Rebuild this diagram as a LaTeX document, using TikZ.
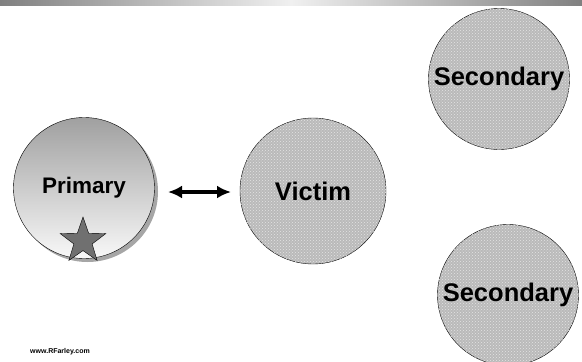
\documentclass[tikz,border=0pt]{standalone}
\usepackage{fontspec}
\setmainfont{Liberation Sans}
\usepackage{tikz}
\definecolor{bardark}{RGB}{128,128,128}
\definecolor{barlight}{RGB}{240,240,240}
\definecolor{balltop}{RGB}{160,160,160}
\definecolor{ballbottom}{RGB}{248,248,248}
\definecolor{hatchfill}{RGB}{186,186,186}
\definecolor{hatchdots}{RGB}{228,228,228}
\definecolor{stargray}{RGB}{112,112,112}
\usetikzlibrary{shapes.geometric,shadows,patterns,arrows.meta}

\begin{document}
\begin{tikzpicture}[x=1pt,y=-1pt,font=\bfseries,
  hatched/.style={circle,draw,thin,inner sep=0pt,fill=hatchfill,
    postaction={pattern=crosshatch dots,pattern color=hatchdots}}]
  \useasboundingbox (0,0) rectangle (582,362);
  \shade [left color=bardark,right color=bardark,middle color=barlight] (0,0) rectangle (582,5);

  \node (prim) at (84,188) [circle,draw,thin,inner sep=0pt,minimum size=141pt,
    top color=balltop,bottom color=ballbottom,
    drop shadow={shadow xshift=3.5pt,shadow yshift=-3.5pt,fill=gray!70,opacity=1}]
    {\fontsize{22.5}{26}\selectfont Primary};
  \node (star) at (83,241) [star,star points=5,star point ratio=2.5,draw,thin,
    fill=stargray,inner sep=0pt,minimum size=48pt] {};

  \node (vict) at (313,191) [hatched,minimum size=146pt] {\fontsize{25.5}{29}\selectfont Victim};
  \node (sec1) at (499,79) [hatched,minimum size=141pt] {\fontsize{25.5}{29}\selectfont Secondary};
  \node (sec2) at (508,295) [hatched,minimum size=141pt] {\fontsize{25.5}{29}\selectfont Secondary};

  \node (web) at (60,352) {\fontsize{7}{8}\selectfont www.RFarley.com};

  \coordinate (a1) at (168,192);
  \coordinate (a2) at (231,192);
  \draw [{Latex[length=14pt,width=13pt]}-{Latex[length=14pt,width=13pt]},line width=4pt] (a1) -- (a2);
\end{tikzpicture}
\end{document}
